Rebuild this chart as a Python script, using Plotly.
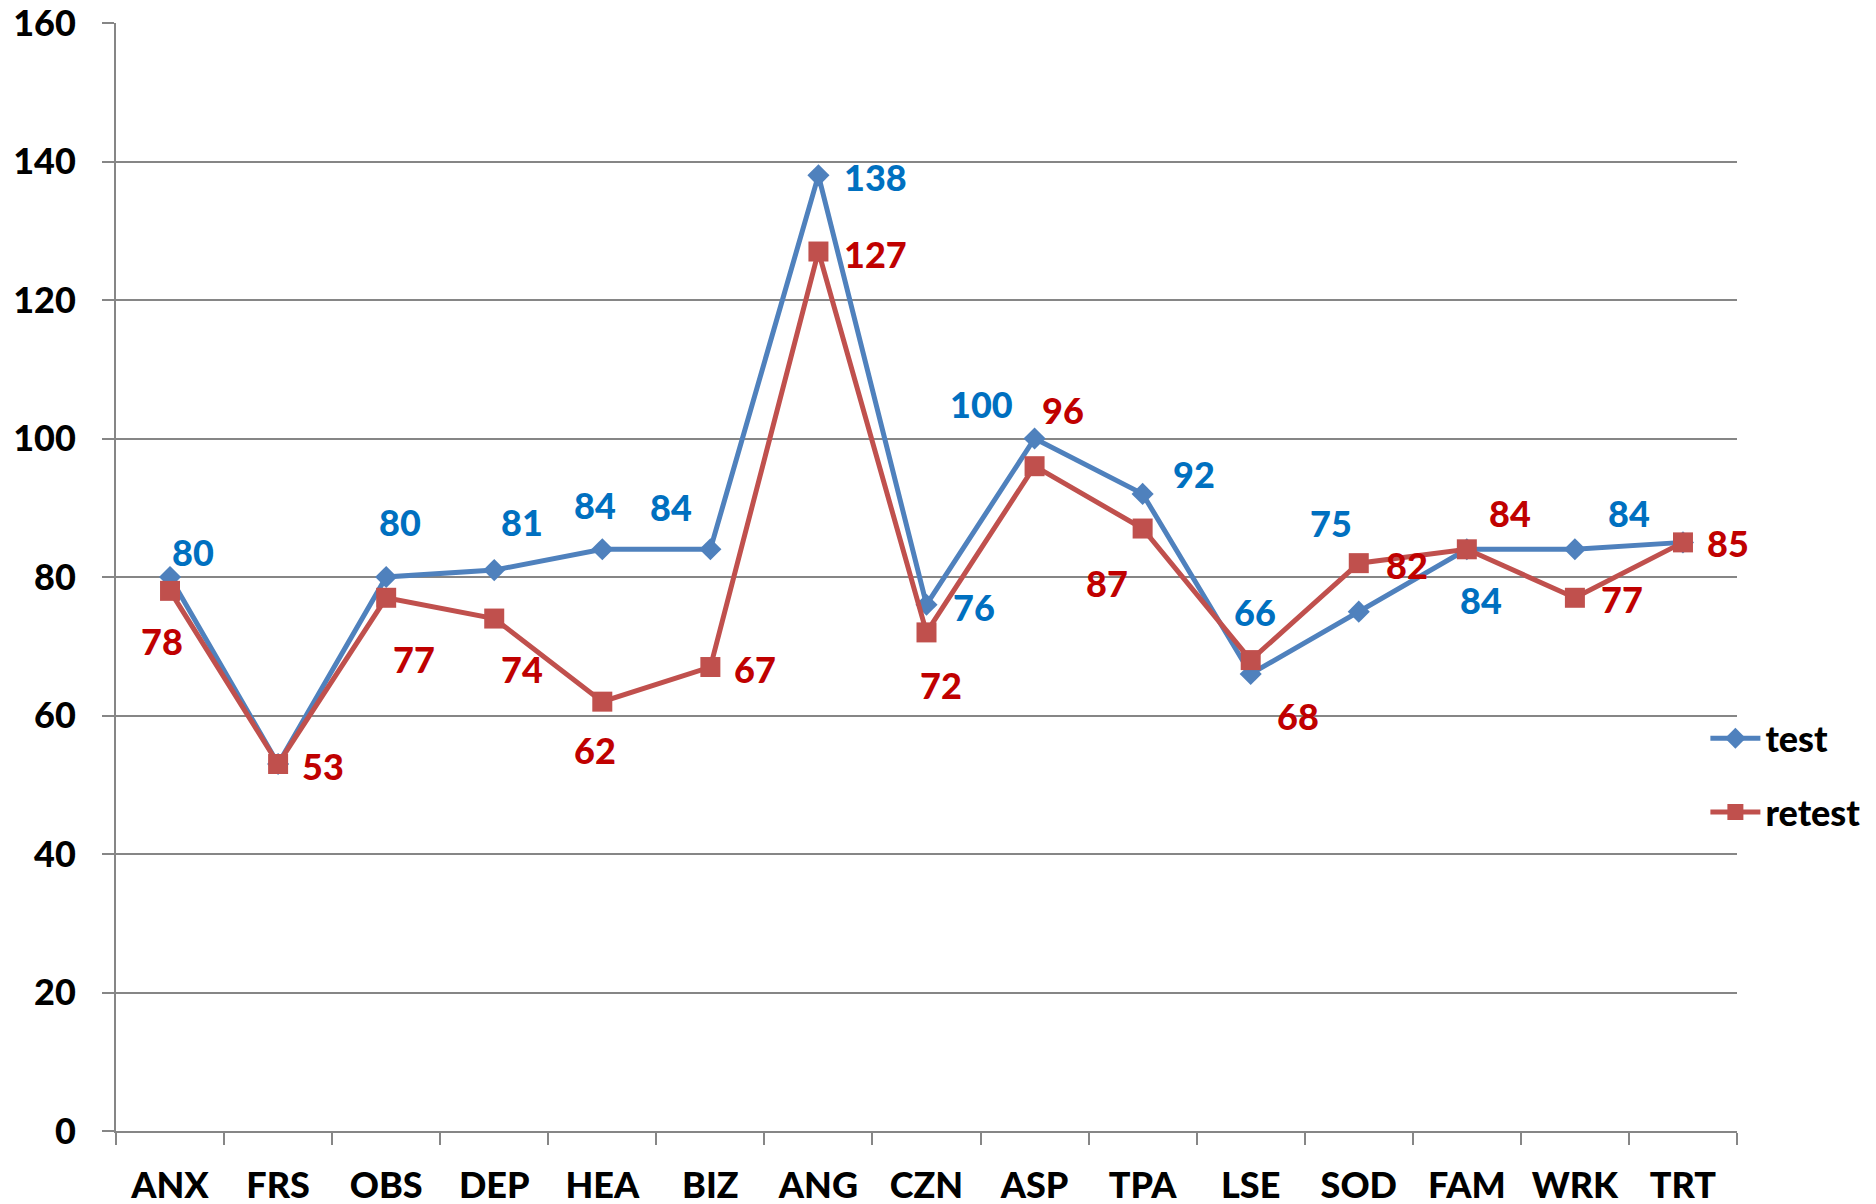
import plotly.graph_objects as go

categories = ["ANX", "FRS", "OBS", "DEP", "HEA", "BIZ", "ANG", "CZN", "ASP", "TPA", "LSE", "SOD", "FAM", "WRK", "TRT"]
test_values = [80, 53, 80, 81, 84, 84, 138, 76, 100, 92, 66, 75, 84, 84, 85]
retest_values = [78, 53, 77, 74, 62, 67, 127, 72, 96, 87, 68, 82, 84, 77, 85]
y_ticks = [0, 20, 40, 60, 80, 100, 120, 140, 160]

# label offsets (pixels) per point; None = no label shown
test_offsets = [(23, -25), None, (14, -55), (28, -48), (-7, -44), (-39, -42), (57, 2), (47, 2),
                (-53, -35), (51, -20), (4, -62), (-28, -89), (14, 51), (54, -36), None]
retest_offsets = [(-8, 50), (45, 2), (28, 61), (28, 50), (-7, 48), (45, 2), (57, 2), (14, 53),
                  (28, -56), (-36, 54), (47, 56), (48, 2), (43, -36), (47, 1), (45, 1)]

BLUE_LINE = "#4F81BD"
BLUE_TXT = "#0070C0"
RED_LINE = "#C0504D"
RED_TXT = "#C00000"
FONT = "Lato"
FS = 36
WEIGHT = 900

fig = go.Figure()
fig.add_trace(go.Scatter(x=categories, y=test_values, name="test", mode="lines+markers",
                         legendgroup="a",
                         line=dict(color=BLUE_LINE, width=5),
                         marker=dict(symbol="diamond", size=17, color=BLUE_LINE)))
fig.add_trace(go.Scatter(x=categories, y=retest_values, name="retest", mode="lines+markers",
                         legendgroup="b",
                         line=dict(color=RED_LINE, width=5),
                         marker=dict(symbol="square", size=20, color=RED_LINE)))

for vals, offs, col in [(test_values, test_offsets, BLUE_TXT), (retest_values, retest_offsets, RED_TXT)]:
    for c, v, o in zip(categories, vals, offs):
        if o is None:
            continue
        fig.add_annotation(x=c, y=v, text=str(v), showarrow=False,
                           xshift=o[0], yshift=-o[1],
                           font=dict(family=FONT, size=FS, color=col, weight=WEIGHT))

fig.update_layout(
    width=1876, height=1204,
    margin=dict(l=108, r=147, t=15, b=81),
    plot_bgcolor="white", paper_bgcolor="white",
    font=dict(family=FONT, size=FS, color="black", weight=WEIGHT),
    showlegend=True,
    legend=dict(x=0.9805, y=0.321, xanchor="left", yanchor="middle",
                font=dict(family=FONT, size=FS, color="black", weight=WEIGHT),
                bgcolor="rgba(0,0,0,0)", tracegroupgap=24, traceorder="grouped",
                itemwidth=50),
)
fig.update_xaxes(type="category", range=[-0.5, 14.5], automargin=False,
                 showline=True, linecolor="#868686", linewidth=2,
                 ticks="outside", tickson="boundaries", ticklen=12, tickwidth=2, tickcolor="#868686",
                 showgrid=False, ticklabelstandoff=22, ticklabeloverflow="allow",
                 tickfont=dict(family=FONT, size=FS, color="black", weight=WEIGHT))
fig.update_yaxes(range=[0, 160], tickvals=y_ticks, automargin=False,
                 showline=True, linecolor="#868686", linewidth=2,
                 ticks="outside", ticklen=12, tickwidth=2, tickcolor="#868686",
                 showgrid=True, gridcolor="#868686", gridwidth=1.5, zeroline=False,
                 ticklabelstandoff=19, ticklabeloverflow="allow",
                 tickfont=dict(family=FONT, size=FS, color="black", weight=WEIGHT))

fig.write_html("out.html")
